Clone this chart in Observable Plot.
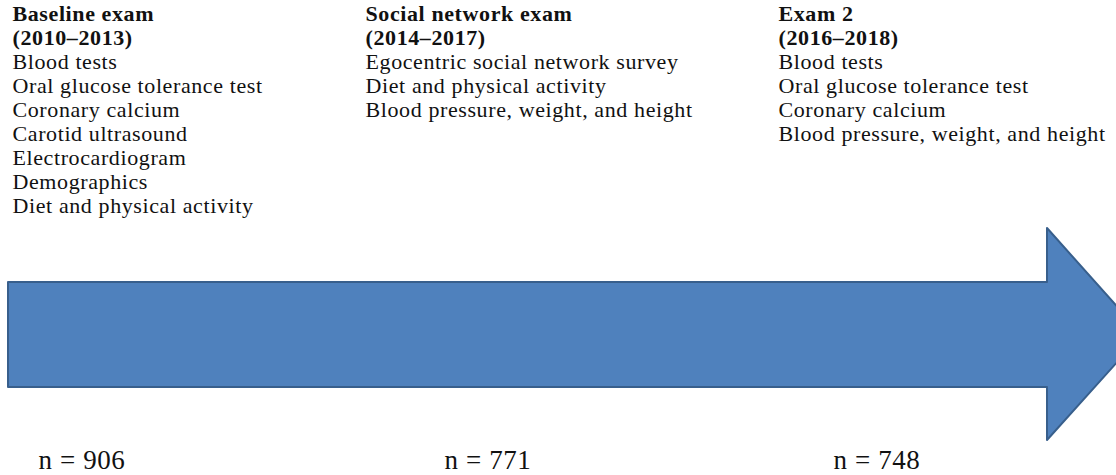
<!DOCTYPE html>
<html>
<head>
<meta charset="utf-8">
<script src="https://cdn.jsdelivr.net/npm/d3@7"></script>
<script src="https://cdn.jsdelivr.net/npm/@observablehq/plot@0.6"></script>
<style>
  html, body { margin: 0; padding: 0; background: #fff; overflow: hidden; }
  #chart svg text { letter-spacing: 0.6px; }
</style>
</head>
<body>
<div id="chart"></div>
<script>
// ---- data ----
const examNames = ["Baseline exam", "Social network exam", "Exam 2"];
const examPeriods = ["(2010–2013)", "(2014–2017)", "(2016–2018)"];
const baselineItems = ["Blood tests", "Oral glucose tolerance test", "Coronary calcium", "Carotid ultrasound", "Electrocardiogram", "Demographics", "Diet and physical activity"];
const socialItems = ["Egocentric social network survey", "Diet and physical activity", "Blood pressure, weight, and height"];
const exam2Items = ["Blood tests", "Oral glucose tolerance test", "Coronary calcium", "Blood pressure, weight, and height"];
const sampleSizes = [906, 771, 748];

// ---- layout ----
const W = 1116, H = 475;
const columnX = [12, 365, 778];
const nX = [38, 444, 833];
const firstBaseline = 20, lineStep = 24.1;
const itemsByExam = [baselineItems, socialItems, exam2Items];

const headerRows = [];
const itemRows = [];
examNames.forEach((name, i) => {
  headerRows.push({x: columnX[i], y: firstBaseline, text: name});
  headerRows.push({x: columnX[i], y: firstBaseline + lineStep, text: examPeriods[i]});
  itemsByExam[i].forEach((t, j) => {
    itemRows.push({x: columnX[i], y: firstBaseline + lineStep * (j + 2), text: t});
  });
});
const nRows = sampleSizes.map((n, i) => ({x: nX[i], y: 468, text: `n = ${n}`}));

// arrow outline (shaft then head)
const shaftLeft = 8, headBase = 1047, tipX = 1142;
const shaftTop = 282, shaftBottom = 387, headTop = 228, headBottom = 440;
const mid = (shaftTop + shaftBottom) / 2;
const arrow = [
  {x: shaftLeft, y1: shaftTop, y2: shaftBottom},
  {x: headBase, y1: shaftTop, y2: shaftBottom},
  {x: headBase, y1: headTop, y2: headBottom},
  {x: tipX, y1: mid, y2: mid}
];

const chart = Plot.plot({
  width: W,
  height: H,
  margin: 0,
  style: {background: "#fff", overflow: "hidden"},
  x: {domain: [0, W], range: [0, W], axis: null},
  y: {domain: [0, H], range: [0, H], axis: null},
  marks: [
    Plot.areaY(arrow, {x: "x", y1: "y1", y2: "y2", fill: "#4f81bd", stroke: "#385f8c", strokeWidth: 2, curve: "linear"}),
    Plot.text(headerRows, {x: "x", y: "y", text: "text", textAnchor: "start", lineAnchor: "bottom", fontFamily: "Liberation Serif", fontWeight: "bold", fontSize: 22, fill: "#111"}),
    Plot.text(itemRows, {x: "x", y: "y", text: "text", textAnchor: "start", lineAnchor: "bottom", fontFamily: "Liberation Serif", fontSize: 22, fill: "#111"}),
    Plot.text(nRows, {x: "x", y: "y", text: "text", textAnchor: "start", lineAnchor: "bottom", fontFamily: "Liberation Serif", fontSize: 27, fill: "#111"})
  ]
});
document.getElementById("chart").appendChild(chart);
</script>
</body>
</html>
